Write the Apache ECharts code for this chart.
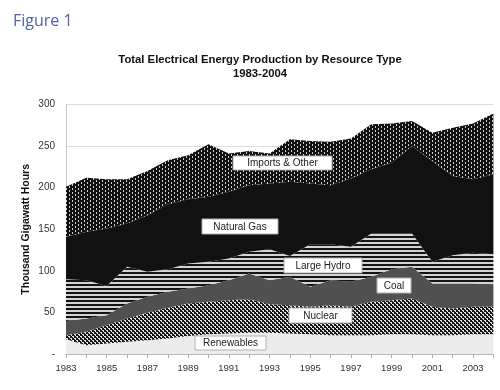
<!DOCTYPE html>
<html>
<head>
<meta charset="utf-8">
<script src="https://cdn.jsdelivr.net/npm/echarts@6/dist/echarts.min.js"></script>
<style>
html,body{margin:0;padding:0;background:#fff;}
#chart{width:500px;height:390px;}
</style>
</head>
<body>
<div id="chart"></div>
<script>
// ---- data (thousand GWh) ----
var years = ['1983','1984','1985','1986','1987','1988','1989','1990','1991','1992','1993','1994','1995','1996','1997','1998','1999','2000','2001','2002','2003','2004'];
var renewables = [18, 11, 13, 15, 17, 19, 22, 24, 25, 26, 26, 25, 24, 23, 23, 23, 24, 24, 23, 23, 24, 24];
var nuclear    = [5, 16, 22, 28, 33, 37, 39, 39, 40, 40, 34, 34, 33, 36, 34, 40, 41, 43, 34, 32, 33, 33];
var coal       = [17, 16, 12, 18, 19, 19, 18, 20, 24, 31, 29, 34, 24, 30, 30, 30, 37, 38, 28, 30, 28, 27];
var largeHydro = [50, 46, 35, 44, 30, 27, 30, 28, 26, 26, 37, 25, 51, 43, 42, 52, 43, 40, 26, 34, 37, 36];
var naturalGas = [51, 58, 69, 52, 68, 78, 77, 78, 80, 80, 79, 89, 73, 71, 82, 77, 85, 105, 121, 95, 88, 96];
var importsOther = [60, 65, 59, 53, 53, 53, 53, 63, 46, 41, 36, 51, 51, 52, 48, 54, 47, 30, 34, 58, 67, 73];
var seriesNames = ['Renewables', 'Nuclear', 'Coal', 'Large Hydro', 'Natural Gas', 'Imports & Other'];
var yTicks = [0, 50, 100, 150, 200, 250, 300];

// ---- patterns ----
function makePattern(w, h, bg, fg, rects) {
  var c = document.createElement('canvas');
  c.width = w; c.height = h;
  var ctx = c.getContext('2d');
  ctx.fillStyle = bg; ctx.fillRect(0, 0, w, h);
  ctx.fillStyle = fg;
  rects.forEach(function (r) { ctx.fillRect(r[0], r[1], r[2], r[3]); });
  return { image: c, repeat: 'repeat' };
}
var pImports = makePattern(6, 4, '#111', '#cfcfcf', [[0,0,1,2],[3,2,1,2]]);
var pNuclear = makePattern(4, 4, '#151515', '#e6e6e6', [[0,0,2,1],[2,2,2,1],[1,1,1,1],[3,3,1,1]]);
var pHydro = makePattern(4, 4, '#141414', '#d4d4d4', [[0,2,4,2]]);

var fills = ['#ececec', pNuclear, '#505050', pHydro, '#111111', pImports];
var dataSets = [renewables, nuclear, coal, largeHydro, naturalGas, importsOther];

var series = dataSets.map(function (d, i) {
  return {
    name: seriesNames[i],
    type: 'line',
    stack: 'total',
    data: d,
    symbol: 'none',
    lineStyle: { width: 0 },
    areaStyle: { color: fills[i], opacity: 1 },
    silent: true
  };
});

var chart = echarts.init(document.getElementById('chart'), null, { renderer: 'canvas' });

var labelFont = '"Liberation Sans", Arial, sans-serif';
var graphics = [];
function box(x, y, w, h, text) {
  graphics.push({
    type: 'rect', z: 100, silent: true,
    shape: { x: x, y: y, width: w, height: h },
    style: { fill: '#ffffff', stroke: '#b0b0b0', lineWidth: 1 }
  });
  graphics.push({
    type: 'text', z: 101, silent: true,
    x: x + w / 2, y: y + h / 2 + 0.5,
    style: { text: text, fill: '#222', fontSize: 10, fontFamily: labelFont, align: 'center', verticalAlign: 'middle' }
  });
}
box(233, 156, 99, 14, 'Imports & Other');
box(202, 219, 76, 15, 'Natural Gas');
box(284, 258, 78, 15, 'Large Hydro');
box(377, 278, 34, 15, 'Coal');
box(289, 308, 63, 15, 'Nuclear');
box(195, 336, 71, 14, 'Renewables');

chart.setOption({
  animation: false,
  backgroundColor: '#fff',
  title: [
    { text: 'Figure 1', left: 8, top: 8, textStyle: { fontFamily: '"Open Sans", sans-serif', fontSize: 16, fontWeight: 'normal', color: '#5261a3' } },
    { text: 'Total Electrical Energy Production by Resource Type\n1983-2004', left: 255, top: 48, textAlign: 'center',
      textStyle: { fontFamily: labelFont, fontSize: 11.3, fontWeight: 'bold', color: '#111', lineHeight: 14 } }
  ],
  grid: { left: 66, right: 6.6, top: 104.3, bottom: 35.7, containLabel: false },
  xAxis: {
    type: 'category',
    data: years,
    boundaryGap: false,
    axisLine: { lineStyle: { color: '#b5b5b5' } },
    axisTick: { show: true, interval: 0, length: 4, lineStyle: { color: '#b5b5b5' } },
    axisLabel: { interval: 1, color: '#333', fontSize: 9.5, fontFamily: labelFont, margin: 9 },
    splitLine: { show: false }
  },
  yAxis: {
    type: 'value',
    min: yTicks[0],
    max: yTicks[yTicks.length - 1],
    interval: 50,
    name: 'Thousand Gigawatt Hours',
    nameLocation: 'middle',
    nameGap: 34,
    nameMoveOverlap: false,
    nameTextStyle: { fontFamily: labelFont, fontSize: 10.5, fontWeight: 'bold', color: '#111' },
    axisLine: { show: true, lineStyle: { color: '#c8c8c8' } },
    axisTick: { show: false },
    axisLabel: {
      color: '#333', fontSize: 10, fontFamily: labelFont, margin: 11,
      formatter: function (v) { return v === 0 ? '-' : String(v); }
    },
    splitLine: { show: true, lineStyle: { color: '#dcdcdc', width: 1 } }
  },
  series: series,
  graphic: { elements: graphics }
});
</script>
</body>
</html>
